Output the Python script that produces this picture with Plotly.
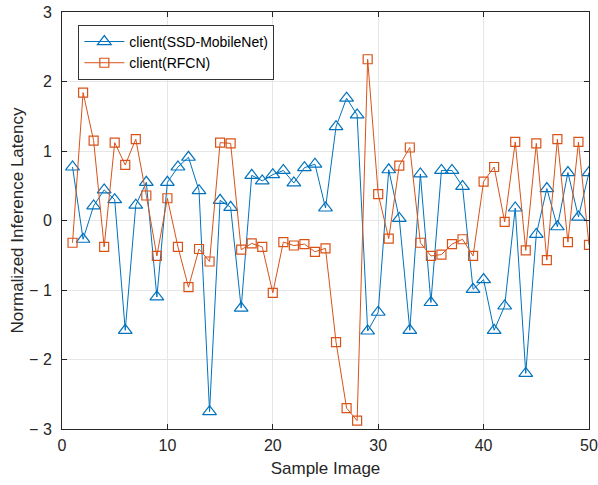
import plotly.graph_objects as go

sample = list(range(1, 51))
ssd_mobilenet = [0.77, -0.27, 0.21, 0.44, 0.30, -1.58, 0.22, 0.55, -1.10, 0.55,
                 0.77, 0.91, 0.43, -2.75, 0.29, 0.19, -1.26, 0.65, 0.57, 0.66,
                 0.72, 0.54, 0.76, 0.81, 0.18, 1.35, 1.76, 1.52, -1.59, -1.32,
                 0.73, 0.03, -1.58, 0.67, -1.18, 0.72, 0.72, 0.49, -0.99, -0.85,
                 -1.58, -1.23, 0.18, -2.20, -0.20, 0.46, -0.09, 0.69, 0.05, 0.69]
rfcn = [-0.32, 1.84, 1.15, -0.38, 1.12, 0.80, 1.17, 0.36, -0.51, 0.32,
        -0.38, -0.96, -0.41, -0.59, 1.12, 1.11, -0.42, -0.33, -0.38, -1.04,
        -0.31, -0.36, -0.34, -0.45, -0.40, -1.75, -2.70, -2.88, 2.32, 0.38,
        -0.26, 0.79, 1.05, -0.32, -0.51, -0.49, -0.34, -0.27, -0.51, 0.56,
        0.77, -0.02, 1.13, -0.43, 1.11, -0.57, 1.17, -0.31, 1.13, -0.35]

x_ticks = [0, 10, 20, 30, 40, 50]
y_ticks = [-3, -2, -1, 0, 1, 2, 3]
y_tick_text = ["\u2212 3", "\u2212 2", "\u2212 1", "0", "1", "2", "3"]

FONT = "Liberation Sans, Arial"

fig = go.Figure()
fig.add_trace(go.Scatter(
    x=sample, y=ssd_mobilenet, mode="lines+markers", name="client(SSD-MobileNet)",
    line=dict(color="#0072BD", width=1),
    marker=dict(symbol="triangle-up-open", size=12, color="#0072BD", line=dict(width=1.2)),
))
fig.add_trace(go.Scatter(
    x=sample, y=rfcn, mode="lines+markers", name="client(RFCN)",
    line=dict(color="#D95319", width=1),
    marker=dict(symbol="square-open", size=9, color="#D95319", line=dict(width=1.2)),
))

axis_common = dict(
    showline=True, linecolor="#262626", linewidth=1, mirror="ticks",
    ticks="inside", ticklen=5, tickcolor="#262626",
    showgrid=True, gridcolor="#E6E6E6", gridwidth=1, zeroline=False,
    automargin=False,
    tickfont=dict(family=FONT, size=16, color="#262626"),
)

fig.update_xaxes(range=[0, 50], tickvals=x_ticks, ticklabelstandoff=2,
                 title=dict(text="Sample Image", font=dict(family=FONT, size=17, color="#262626"), standoff=8),
                 **axis_common)
fig.update_yaxes(range=[-3, 3], tickvals=y_ticks, ticktext=y_tick_text, ticklabelstandoff=6,
                 title=dict(text="Normalized Inference Latency", font=dict(family=FONT, size=17, color="#262626"), standoff=1),
                 **axis_common)

fig.update_layout(
    width=598, height=485,
    margin=dict(l=62, r=9, t=12, b=56),
    paper_bgcolor="white", plot_bgcolor="white",
    showlegend=True,
    legend=dict(x=0.031, y=0.969, xanchor="left", yanchor="top",
                bgcolor="white", bordercolor="#333333", borderwidth=1,
                font=dict(family=FONT, size=14, color="#000000"),
                tracegroupgap=0, itemwidth=40),
)

fig.write_html("out.html", config={"displayModeBar": False},
               post_script="document.body.style.margin='0';document.body.style.overflow='hidden';")
